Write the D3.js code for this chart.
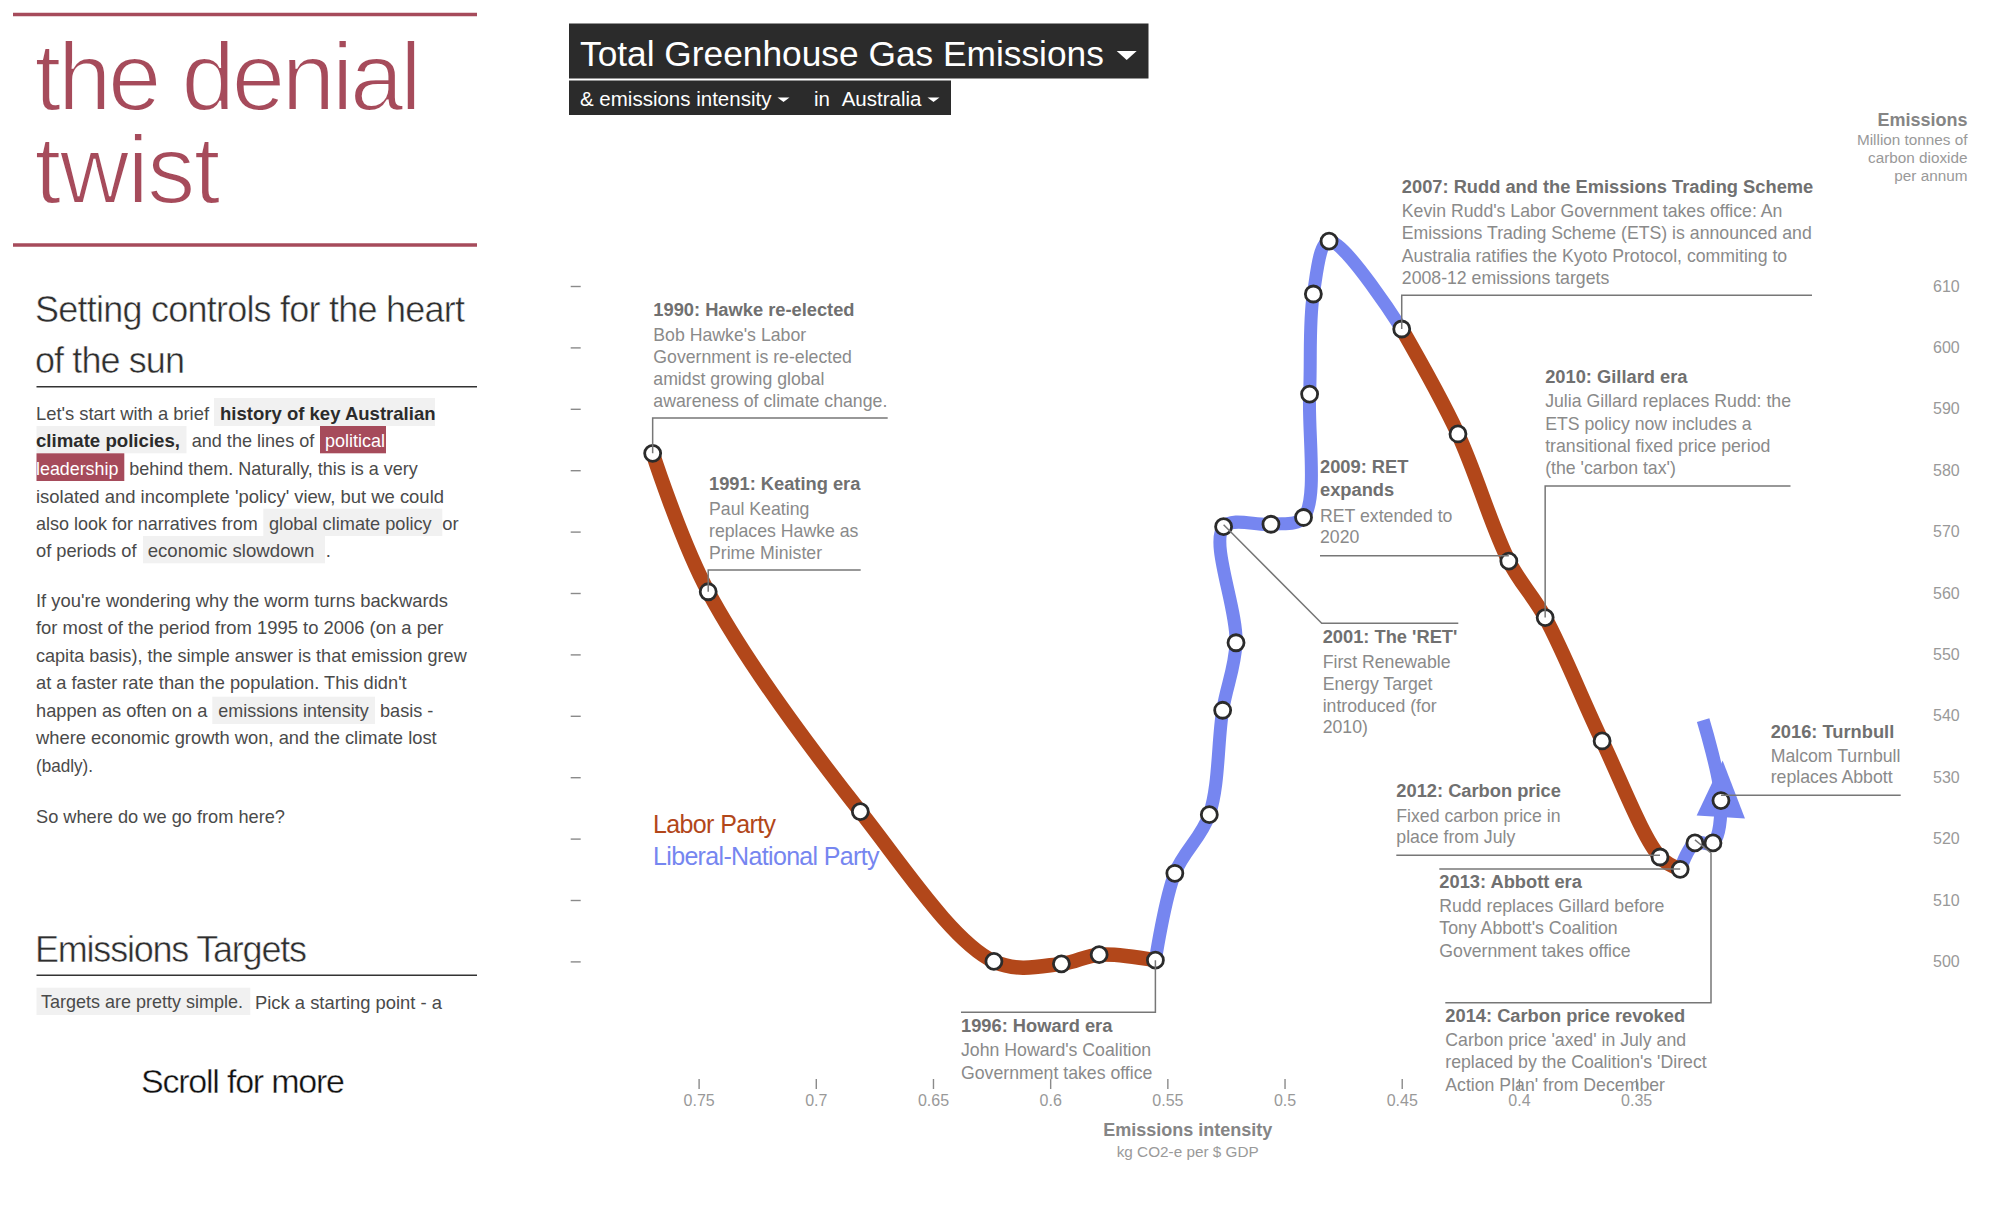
<!DOCTYPE html>
<html>
<head>
<meta charset="utf-8">
<script src="https://cdn.jsdelivr.net/npm/d3@7"></script>
<style>
    html, body { margin: 0; padding: 0; background: #fff; }
    svg { display: block; }
    text { font-family: "Liberation Sans", Arial, sans-serif; }
    .thin { stroke: #fff; }
    .body-text { font-size: 18.4px; fill: #4a4a4a; }
    .note-title { font-size: 18.3px; font-weight: bold; fill: #707070; }
    .note-body { font-size: 17.7px; fill: #8a8a8a; }
    .leader { fill: none; stroke: #777; stroke-width: 1.5; }
    .dot { fill: #fff; stroke: #2b2b2b; stroke-width: 2.8; }
    .axis-label { font-size: 16px; fill: #999; }
</style>
</head>
<body>
<svg id="page" width="1999" height="1219"></svg>
<script>
// Australia, 1990-2017
const years = [1990, 1991, 1992, 1993, 1994, 1995, 1996, 1997, 1998, 1999, 2000, 2001, 2002, 2003,
    2004, 2005, 2006, 2007, 2008, 2009, 2010, 2011, 2012, 2013, 2014, 2015, 2016, 2017];
const intensity = [0.7696, 0.7459, 0.6810, 0.6240, 0.5952, 0.5791, 0.5551, 0.5468, 0.5321, 0.5264,
    0.5207, 0.5260, 0.5058, 0.4919, 0.4893, 0.4877, 0.4810, 0.4500, 0.4260, 0.4043, 0.3888, 0.3645,
    0.3398, 0.3312, 0.3249, 0.3172, 0.3138, 0.3214];
const emissions = [582.75, 560.2, 524.4, 500.0, 499.6, 501.1, 500.2, 514.35, 523.9, 540.9, 551.9,
    570.8, 571.2, 572.3, 592.4, 608.7, 617.3, 603.0, 585.9, 565.2, 556.0, 535.9, 517.0, 515.0,
    519.3, 519.3, 526.2, 539.3];

const laborSpans = [[1990, 1996], [2007, 2013]];
const liberalSpans = [[1996, 2007], [2013, 2017]];
const partyNames = ["Labor Party", "Liberal-National Party"];

const intensityTicks = [0.75, 0.7, 0.65, 0.6, 0.55, 0.5, 0.45, 0.4, 0.35];
const emissionTicks = [610, 600, 590, 580, 570, 560, 550, 540, 530, 520, 510, 500];

const noteYears = [1990, 1991, 1996, 2001, 2007, 2009, 2010, 2012, 2013, 2014, 2016];
const noteTitles = [
    ["1990: Hawke re-elected"], ["1991: Keating era"], ["1996: Howard era"], ["2001: The 'RET'"],
    ["2007: Rudd and the Emissions Trading Scheme"], ["2009: RET", "expands"], ["2010: Gillard era"],
    ["2012: Carbon price"], ["2013: Abbott era"], ["2014: Carbon price revoked"], ["2016: Turnbull"]
];
const noteBodies = [
    ["Bob Hawke's Labor", "Government is re-elected", "amidst growing global", "awareness of climate change."],
    ["Paul Keating", "replaces Hawke as", "Prime Minister"],
    ["John Howard's Coalition", "Government takes office"],
    ["First Renewable", "Energy Target", "introduced (for", "2010)"],
    ["Kevin Rudd's Labor Government takes office: An", "Emissions Trading Scheme (ETS) is announced and",
        "Australia ratifies the Kyoto Protocol, commiting to", "2008-12 emissions targets"],
    ["RET extended to", "2020"],
    ["Julia Gillard replaces Rudd: the", "ETS policy now includes a", "transitional fixed price period", "(the 'carbon tax')"],
    ["Fixed carbon price in", "place from July"],
    ["Rudd replaces Gillard before", "Tony Abbott's Coalition", "Government takes office"],
    ["Carbon price 'axed' in July and", "replaced by the Coalition's 'Direct", "Action Plan' from December"],
    ["Malcom Turnbull", "replaces Abbott"]
];

const LABOR = "#b2471a";
const LIBERAL = "#7686f0";
const ROSE = "#a64b5b";
const DARK = "#2b2b2b";
const SHADE = "#f1f1f1";

let svg = d3.select("#page");

/* ---------- left column ---------- */
let side = svg.append("g");

// width is the line's measured length in the reference
function put(str, x, y, cls, attrs, width) {
    let t = side.append("text").attr("x", x).attr("y", cls === "body-text" ? y - 0.6 : y).text(str);
    if (cls) t.attr("class", cls);
    Object.entries(attrs || {}).forEach(([k, v]) => t.style(k, v));
    if (width) t.attr("textLength", width).attr("lengthAdjust", cls === "thin" ? "spacing" : "spacingAndGlyphs");
    return t;
}
function box(x0, y0, x1, y1, fill) {
    side.append("rect").attr("x", x0).attr("y", y0).attr("width", x1 - x0).attr("height", y1 - y0).attr("fill", fill);
}
function rule(x0, x1, y, color, w) {
    side.append("line").attr("x1", x0).attr("x2", x1).attr("y1", y).attr("y2", y)
        .attr("stroke", color).attr("stroke-width", w);
}

rule(13, 477, 14.5, ROSE, 3.4);
rule(13, 477, 245, ROSE, 3.4);
const bigTitle = { "font-size": "96px", fill: ROSE, "stroke-width": "2px" };
put("the denial", 34.5, 110, "thin", bigTitle, 387);
put("twist", 34.5, 202.7, "thin", bigTitle, 186);

const heading = { "font-size": "36px", fill: "#2e2e2e", "stroke-width": "0.5px" };
put("Setting controls for the heart", 35, 321.7, "thin", heading, 430);
put("of the sun", 35, 372.7, "thin", heading, 150);
rule(36.5, 477, 386.7, "#333", 1.6);

box(214, 398, 435, 426, SHADE);
box(36.5, 426, 186.5, 453.3, SHADE);
box(320, 426, 386, 453.3, ROSE);
box(36.5, 453.3, 124.3, 481, ROSE);
box(263.3, 508.7, 442.3, 536, SHADE);
box(143, 536, 325, 563.3, SHADE);
box(212.3, 696.7, 375, 724, SHADE);
box(36.5, 987.7, 250.3, 1015, SHADE);

const bold = { "font-weight": "bold", fill: "#2b2b2b" };
put("Let's start with a brief", 36, 420.7, "body-text", null, 173);
put("history of key Australian", 220, 420.3, "body-text", bold, 215.5);
put("climate policies,", 36, 448, "body-text", bold, 144);
put("and the lines of", 191.7, 448, "body-text", null, 122.6);
put("political", 325, 447.5, "body-text", { fill: "#fff" }, 60);
put("leadership", 36, 475.5, "body-text", { fill: "#fff" }, 82.3);
put("behind them. Naturally, this is a very", 129.3, 476, "body-text", null, 288.4);
put("isolated and incomplete 'policy' view, but we could", 36, 503.3, "body-text", null, 408);
put("also look for narratives from", 36, 530.7, "body-text", null, 221.7);
put("global climate policy", 269, 530.2, "body-text", null, 162.7);
put("or", 442.3, 530.7, "body-text");
put("of periods of", 36, 558, "body-text", null, 100.5);
put("economic slowdown", 147.7, 557.5, "body-text", null, 166.6);
put(".", 325.7, 558, "body-text");

put("If you're wondering why the worm turns backwards", 36, 607.3, "body-text", null, 412);
put("for most of the period from 1995 to 2006 (on a per", 36, 635, "body-text", null, 407.3);
put("capita basis), the simple answer is that emission grew", 36, 662.3, "body-text", null, 430.7);
put("at a faster rate than the population. This didn't", 36, 690, "body-text", null, 370.7);
put("happen as often on a", 36, 717.3, "body-text", null, 171.3);
put("emissions intensity", 218.3, 717.8, "body-text", null, 150.4);
put("basis -", 380, 717.3, "body-text", null, 53.3);
put("where economic growth won, and the climate lost", 36, 744.7, "body-text", null, 400.7);
put("(badly).", 36, 772.3, "body-text", null, 57);
put("So where do we go from here?", 36, 823.3, "body-text", null, 249);

put("Emissions Targets", 35, 961.7, "thin", heading, 272);
rule(36.5, 477, 975.3, "#333", 1.6);
put("Targets are pretty simple.", 41, 1009, "body-text", null, 202);
put("Pick a starting point - a", 255, 1010, "body-text", null, 187);
put("Scroll for more", 141, 1092.7, "thin", { "font-size": "34px", fill: "#111", "stroke-width": "0.4px" }, 204);

/* ---------- header ---------- */
let head = svg.append("g");
head.append("rect").attr("x", 569).attr("y", 23.5).attr("width", 579.5).attr("height", 55).attr("fill", DARK);
head.append("rect").attr("x", 569).attr("y", 80.5).attr("width", 382).attr("height", 34.5).attr("fill", DARK);
head.append("text").attr("x", 580).attr("y", 66).attr("fill", "#fff").style("font-size", "35.3px").text("Total Greenhouse Gas Emissions");
head.append("text").attr("x", 580).attr("y", 106).attr("fill", "#fff").style("font-size", "20.5px").text("& emissions intensity");
head.append("text").attr("x", 814).attr("y", 106).attr("fill", "#fff").style("font-size", "20.5px").text("in");
head.append("text").attr("x", 841.7).attr("y", 106).attr("fill", "#fff").style("font-size", "20.5px").text("Australia");
[[1116.7, 1136.7, 51, 60], [777.5, 789.5, 97.5, 102], [927.5, 939.5, 97.5, 102]].forEach(c => {
    head.append("path").attr("d", `M${c[0]},${c[2]}L${c[1]},${c[2]}L${(c[0] + c[1]) / 2},${c[3]}Z`).attr("fill", "#fff");
});

/* ---------- chart ---------- */
let x = d3.scaleLinear().domain([0.75, 0.35]).range([698.6, 1636.1]);
let y = d3.scaleLinear().domain([610, 500]).range([286, 961.4]);

let chart = svg.append("g");

// left dashes, no labels
let dashes = chart.append("g").attr("transform", "translate(580.7,0)")
    .call(d3.axisLeft(y).tickValues(emissionTicks).tickSize(10).tickFormat(""));
dashes.select(".domain").remove();
dashes.selectAll("line").attr("stroke", "#8a8a8a").attr("stroke-width", 1.4);

// labels on the right
let rightAxis = chart.append("g").attr("transform", "translate(1933,0)")
    .call(d3.axisRight(y).tickValues(emissionTicks).tickSize(0).tickPadding(0));
rightAxis.select(".domain").remove();
rightAxis.selectAll("text").attr("class", "axis-label");

let bottomAxis = chart.append("g").attr("transform", "translate(0,1079)")
    .call(d3.axisBottom(x).tickValues(intensityTicks).tickSize(10).tickPadding(6).tickFormat(d => d));
bottomAxis.select(".domain").remove();
bottomAxis.selectAll("line").attr("stroke", "#8a8a8a").attr("stroke-width", 1.4);
bottomAxis.selectAll("text").attr("class", "axis-label");

chart.append("text").attr("x", 1187.7).attr("y", 1136).attr("text-anchor", "middle")
    .style("font-size", "18px").style("font-weight", "bold").attr("fill", "#858585").text("Emissions intensity");
chart.append("text").attr("x", 1187.7).attr("y", 1156.7).attr("text-anchor", "middle")
    .style("font-size", "15.3px").attr("fill", "#999").text("kg CO2-e per $ GDP");

chart.append("text").attr("x", 1967.5).attr("y", 125.7).attr("text-anchor", "end")
    .style("font-size", "18px").style("font-weight", "bold").attr("fill", "#858585").text("Emissions");
["Million tonnes of", "carbon dioxide", "per annum"].forEach((s, i) => {
    chart.append("text").attr("x", 1967.5).attr("y", [145, 163.3, 180.7][i]).attr("text-anchor", "end")
        .style("font-size", "15.3px").attr("fill", "#999").text(s);
});

// legend goes under the worm
chart.append("text").attr("x", 653).attr("y", 832.7).attr("textLength", 123)
    .style("font-size", "25px").attr("fill", LABOR).text(partyNames[0]);
chart.append("text").attr("x", 653).attr("y", 865.3).attr("textLength", 226.5)
    .style("font-size", "25px").attr("fill", LIBERAL).text(partyNames[1]);

// the worm, one path per term of government
let points = years.map((yr, i) => ({ year: yr, x: x(intensity[i]), y: y(emissions[i]) }));
let line = d3.line().x(d => d.x).y(d => d.y).curve(d3.curveCatmullRom);
let pointOf = yr => points[years.indexOf(yr)];

function drawSpans(spans, color, width) {
    chart.selectAll(null).data(spans).join("path")
        .attr("d", s => line(points.filter(p => p.year >= s[0] && p.year <= s[1])))
        .attr("fill", "none").attr("stroke", color).attr("stroke-width", width);
}
drawSpans(liberalSpans, LIBERAL, 13);
drawSpans(laborSpans, LABOR, 14.5);

// arrow head sits on the last labelled year
let last = pointOf(2016);
chart.append("path").attr("transform", `translate(${last.x},${last.y})`)
    .attr("d", "M1.7,-40L24,18L-24.3,15Z").attr("fill", LIBERAL);

chart.selectAll("circle.dot").data(points.filter(p => p.year < 2017)).join("circle")
    .attr("class", "dot").attr("cx", d => d.x).attr("cy", d => d.y).attr("r", 8);

/* ---------- annotations ---------- */
// text left edge, baselines of every line, rule y and right end
const noteLayout = {
    1990: { left: 653.3, base: [316, 340.7, 362.7, 385, 406.7], ruleY: 418, ruleX1: 887.7 },
    1991: { left: 709, base: [490, 515, 536.7, 559], ruleY: 570, ruleX1: 860.7 },
    1996: { left: 961, base: [1032.3, 1056, 1078.7], ruleY: 1012.3, ruleX1: null },
    2001: { left: 1322.7, base: [643.3, 667.7, 690, 711.7, 733.3], ruleY: 623.3, ruleX1: 1458.3, ruleX0: 1321.7 },
    2007: { left: 1401.8, base: [193.3, 217.3, 239.3, 262, 284], ruleY: 295.3, ruleX1: 1812 },
    2009: { left: 1320, base: [473.3, 495.7, 521.7, 543.3], ruleY: 555.7, ruleX1: null },
    2010: { left: 1545.2, base: [383.3, 407.3, 430, 452, 474], ruleY: 486, ruleX1: 1790.5 },
    2012: { left: 1396.3, base: [796.7, 821.7, 843.3], ruleY: 855.3, ruleX1: null },
    2013: { left: 1439.3, base: [888.3, 911.7, 934.3, 956.7], ruleY: 869, ruleX1: null },
    2014: { left: 1445.3, base: [1021.7, 1045.7, 1068.3, 1090.7], ruleY: 1002.7, ruleX1: 1711, ruleX0: 1445.3 },
    2016: { left: 1770.7, base: [737.7, 761.7, 783.3], ruleY: 795.3, ruleX1: 1900.7 }
};

let notes = svg.append("g");
noteYears.forEach((yr, i) => {
    let lay = noteLayout[yr];
    let p = pointOf(yr);
    let titleLines = noteTitles[i];
    titleLines.concat(noteBodies[i]).forEach((s, k) => {
        notes.append("text").attr("x", lay.left).attr("y", lay.base[k])
            .attr("class", k < titleLines.length ? "note-title" : "note-body").text(s);
    });
    let d;
    if (yr === 2001) {
        d = [[p.x, p.y - 2], [lay.ruleX0, lay.ruleY], [lay.ruleX1, lay.ruleY]];
    } else if (yr === 2014) {
        d = [[p.x, p.y - 3], [lay.ruleX1, 853], [lay.ruleX1, lay.ruleY], [lay.ruleX0, lay.ruleY]];
    } else if (yr === 2009 || yr === 2012 || yr === 2013) {
        d = [[lay.left, lay.ruleY], [p.x, lay.ruleY]];
    } else if (yr === 1996) {
        d = [[lay.left, lay.ruleY], [p.x, lay.ruleY], [p.x, p.y]];
    } else if (yr === 2016) {
        d = [[p.x, lay.ruleY], [lay.ruleX1, lay.ruleY]];
    } else {
        d = [[lay.ruleX1, lay.ruleY], [p.x, lay.ruleY], [p.x, p.y]];
    }
    notes.append("path").attr("class", "leader").attr("d", d3.line()(d));
});
</script>
</body>
</html>
